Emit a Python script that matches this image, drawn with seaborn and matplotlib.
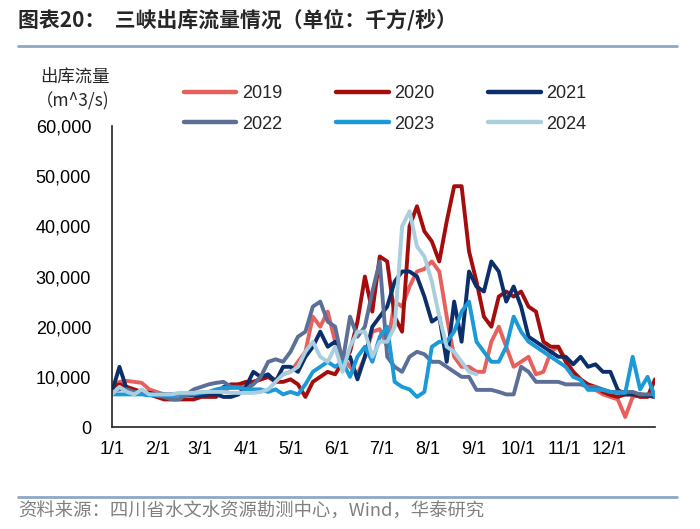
"""
三峡出库流量情况 - seaborn line chart, saved to out.png
"""

import numpy as np
import pandas as pd
import matplotlib
matplotlib.use("Agg")
import matplotlib.pyplot as plt
from matplotlib.lines import Line2D
import seaborn as sns

# day-of-year positions, one reading every 5 days
days = np.arange(0, 366, 5)

# outflow in thousand m^3/s
flow_2019 = [8.0, 9.0, 9.2, 9.0, 8.8, 7.5, 7.0, 6.5, 6.3, 6.5, 6.3, 6.5, 6.8, 7.0, 6.8, 7.2,
             8.0, 8.5, 8.5, 9.0, 9.5, 10.0, 9.5, 10.5, 11.0, 13.0, 15.0, 22.0, 20.0, 23.0, 17.0, 14.0,
             12.0, 10.5, 14.0, 19.0, 19.5, 16.0, 25.0, 24.0, 28.0, 31.0, 31.5, 33.0, 31.0, 22.0, 14.0, 12.0,
             12.0, 11.0, 11.0, 17.0, 20.0, 16.0, 12.0, 13.0, 14.0, 10.5, 11.0, 15.0, 16.0, 13.5, 11.0, 9.5,
             8.0, 7.4, 6.5, 6.0, 5.5, 2.0, 6.0, 6.5, 6.2, 6.0]
flow_2020 = [8.0, 8.5, 8.0, 7.5, 7.0, 6.5, 6.0, 5.5, 5.5, 5.5, 5.5, 5.5, 6.0, 6.0, 6.0, 8.0,
             8.5, 8.5, 9.0, 9.0, 9.5, 10.0, 9.0, 9.0, 9.5, 8.5, 6.0, 9.0, 10.0, 11.0, 10.5, 13.0,
             15.0, 21.0, 30.0, 23.0, 34.0, 33.0, 22.0, 19.0, 40.0, 44.0, 39.0, 37.0, 33.0, 41.0, 48.0, 48.0,
             35.0, 29.0, 22.0, 20.0, 26.0, 27.0, 26.0, 27.0, 24.0, 23.0, 17.0, 16.0, 16.0, 13.0, 11.0, 9.5,
             8.5, 8.0, 7.0, 6.4, 6.0, 6.5, 6.5, 6.0, 6.0, 9.5]
flow_2021 = [7.0, 12.0, 7.5, 7.0, 7.0, 6.8, 6.5, 6.5, 6.5, 6.5, 6.5, 6.3, 6.3, 6.5, 6.5, 6.0,
             6.0, 6.5, 8.0, 11.0, 10.0, 10.5, 9.0, 12.0, 12.0, 11.0, 14.0, 16.0, 19.0, 16.0, 17.0, 13.0,
             14.0, 9.5, 14.0, 20.0, 22.0, 24.0, 29.0, 31.0, 31.0, 30.0, 26.0, 21.0, 22.0, 13.0, 25.0, 17.0,
             31.0, 28.0, 27.0, 33.0, 31.0, 25.0, 28.0, 24.0, 18.0, 17.0, 16.0, 15.0, 14.0, 14.0, 12.5, 14.0,
             12.0, 12.5, 11.0, 11.0, 7.4, 6.5, 6.5, 6.5, 6.3, 6.0]
flow_2022 = [7.0, 7.5, 7.5, 7.0, 6.8, 6.5, 6.3, 6.0, 5.5, 5.5, 6.5, 7.5, 8.0, 8.5, 8.8, 9.0,
             8.0, 8.0, 7.5, 8.5, 10.0, 13.0, 13.5, 13.0, 15.0, 18.0, 19.0, 24.0, 25.0, 21.0, 20.0, 13.0,
             22.0, 18.0, 20.0, 27.0, 33.0, 14.0, 12.0, 11.0, 14.0, 15.0, 14.5, 13.0, 13.0, 12.0, 11.0, 10.0,
             10.0, 7.4, 7.4, 7.4, 7.0, 6.5, 6.5, 12.0, 11.0, 9.0, 9.0, 9.0, 9.0, 8.5, 8.5, 8.5,
             8.0, 8.0, 7.5, 7.0, 7.0, 7.0, 7.0, 6.5, 6.5, 6.5]
flow_2023 = [6.5, 6.5, 6.5, 6.5, 6.5, 6.3, 6.3, 6.3, 6.3, 6.5, 6.5, 6.5, 6.8, 7.0, 7.5, 7.8,
             7.8, 7.8, 7.5, 7.5, 7.5, 7.0, 7.5, 6.5, 7.0, 6.5, 8.5, 11.0, 12.0, 13.0, 12.0, 13.0,
             10.0, 14.0, 16.0, 13.0, 18.0, 20.0, 9.0, 8.0, 7.5, 6.0, 7.0, 16.0, 17.0, 17.0, 19.0, 23.0,
             25.0, 17.0, 15.0, 13.0, 13.0, 16.0, 22.0, 19.0, 17.0, 16.0, 15.0, 14.0, 13.0, 12.0, 10.0, 9.4,
             7.4, 7.4, 7.4, 7.0, 6.8, 6.8, 14.0, 7.5, 10.0, 6.0]
# 2024 stops in late August
flow_2024 = [6.5, 8.0, 7.0, 6.5, 7.5, 6.5, 6.5, 6.5, 6.5, 6.8, 6.8, 6.8, 7.0, 7.0, 7.0, 7.0,
             6.8, 6.8, 6.8, 6.8, 7.0, 7.5, 9.0, 10.5, 11.0, 12.0, 15.0, 17.0, 14.0, 13.0, 16.0, 11.0,
             16.0, 19.0, 19.0, 14.0, 17.0, 17.0, 20.0, 40.0, 43.0, 36.0, 34.0, 29.0, 22.0, 16.0, 15.0, 13.0,
             11.0, 10.5]

years = ["2019", "2020", "2021", "2022", "2023", "2024"]
series = [flow_2019, flow_2020, flow_2021, flow_2022, flow_2023, flow_2024]
colors = ["#E8605C", "#A50D0D", "#0B2F6B", "#5C6F96", "#1B9AD7", "#A9CFDE"]

month_days = [0, 31, 59, 90, 120, 151, 181, 212, 243, 273, 304, 334, 365]
month_labels = ["1/1", "2/1", "3/1", "4/1", "5/1", "6/1", "7/1", "8/1", "9/1", "10/1", "11/1", "12/1", ""]

rows = []
for yr, vals in zip(years, series):
    for d, v in zip(days, vals):
        rows.append({"day": d, "flow": v * 1000, "year": yr})
df = pd.DataFrame(rows)

sns.set_style("white")
plt.rcParams["font.family"] = ["Liberation Sans", "Noto Sans CJK SC"]
cjk = ["Noto Sans CJK SC", "DejaVu Sans"]

fig = plt.figure(figsize=(7, 5.29), dpi=100)
ax = fig.add_axes([0.16, 0.1928, 0.7757, 0.569])

sns.lineplot(data=df, x="day", y="flow", hue="year", palette=dict(zip(years, colors)),
             linewidth=2.8, legend=False, errorbar=None, ax=ax)

ax.set_xlim(0, 365)
ax.set_ylim(0, 60000)
ax.set_xticks(month_days)
ax.set_xticklabels(month_labels)
ax.set_yticks(np.arange(0, 60001, 10000))
ax.set_yticklabels([f"{int(v):,}" for v in np.arange(0, 60001, 10000)])
ax.set_xlabel("")
ax.set_ylabel("")
ax.tick_params(axis="x", direction="out", length=4, width=1.2, pad=6, labelsize=13, colors="black")
ax.tick_params(axis="y", direction="out", length=4, width=1.2, pad=11, labelsize=13, colors="black")
sns.despine(ax=ax)
for side in ["left", "bottom"]:
    ax.spines[side].set_color("#222222")
    ax.spines[side].set_linewidth(1.2)

# legend: 3 columns x 2 rows
handles = [Line2D([0], [0], color=c, lw=3.2) for c in colors]
order = [0, 3, 1, 4, 2, 5]
fig.legend([handles[i] for i in order], [years[i] for i in order], ncol=3, frameon=False,
           loc="upper left", bbox_to_anchor=(184 / 700, 1 - 85 / 529), fontsize=13,
           handlelength=2.9, handletextpad=0.3, columnspacing=3.0, labelspacing=0.75,
           borderpad=0, borderaxespad=0)

# unit label
fig.text(110 / 700, 1 - 77 / 529, "出库流量", family=cjk, fontsize=12.5, ha="right", va="center")
fig.text(110 / 700, 1 - 101 / 529, "（m^3/s)", family=cjk, fontsize=12.5, ha="right", va="center")

# title and rules
fig.text(18 / 700, 1 - 20 / 529, "图表20：  三峡出库流量情况（单位：千方/秒）", family=cjk,
         fontsize=15, fontweight="bold", ha="left", va="center")
fig.add_artist(Line2D([18 / 700, 677 / 700], [1 - 46 / 529, 1 - 46 / 529], color="#8EA8C6", lw=2))
fig.add_artist(Line2D([18 / 700, 677 / 700], [1 - 497 / 529, 1 - 497 / 529], color="#8EA8C6", lw=2))
fig.text(18 / 700, 1 - 512 / 529, "资料来源：四川省水文水资源勘测中心，Wind，华泰研究", family=cjk,
         fontsize=13.2, color="#808080", ha="left", va="center")

fig.savefig("out.png", dpi=100)
